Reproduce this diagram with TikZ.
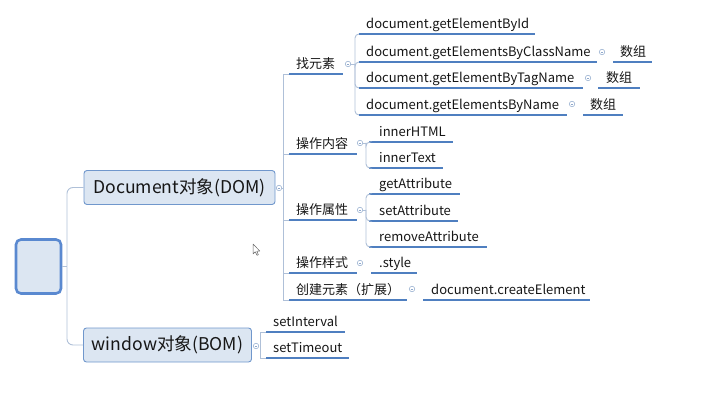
\documentclass[tikz,border=0pt]{standalone}
\usepackage{fontspec}
\setmainfont{Noto Sans CJK SC}
\definecolor{ulc}{HTML}{4F7FC0}
\definecolor{connc}{HTML}{AFC0D8}
\definecolor{nfill}{HTML}{DCE6F2}
\definecolor{nbord}{HTML}{7097CC}
\definecolor{rbord}{HTML}{5A89D0}
\definecolor{togc}{HTML}{8EA8CC}
\definecolor{txtc}{HTML}{161616}
\newcommand\mmtopic[6]{%
  \node[lbl] (#1) at (#2,#5-5.5) {#6};
  \coordinate (#1l) at (#3,#5);
  \coordinate (#1r) at (#4,#5);
  \draw[uline] (#1l) -- (#1r);}
\newcommand\mmtog[3]{\node[tog] (#1) at (#2,#3) {};}
\begin{document}
\begin{tikzpicture}[x=1pt,y=-1pt,
  lbl/.style={font=\fontsize{13}{15}\selectfont, text=txtc, anchor=base west, inner sep=0},
  uline/.style={draw=ulc, line width=1.6},
  conn/.style={draw=connc, line width=0.9},
  tog/.style={circle, draw=togc, line width=0.5, fill=white, minimum size=5.5, inner sep=0,
    path picture={\draw[togc, line width=0.5] ([xshift=1.4pt]path picture bounding box.west) -- ([xshift=-1.4pt]path picture bounding box.east);}},
  mainbox/.style={draw=nbord, fill=nfill, line width=0.9, rounded corners=3, inner sep=0,
    font=\fontsize{17.6}{20}\selectfont, text=txtc},
  rootbox/.style={draw=rbord, fill=nfill, line width=2.6, rounded corners=5, inner sep=0}
]
\useasboundingbox (0,0) rectangle (727,403);

% root and main branches
\node[rootbox, minimum width=45, minimum height=54] (root) at (38.5,266.5) {};
\node[mainbox, minimum width=191, minimum height=34] (doc) at (179.5,187.5) {Document对象(DOM)};
\node[mainbox, minimum width=168, minimum height=34] (win) at (167.5,345) {window对象(BOM)};
\coordinate (rj) at (67,266.5);
\draw[conn] (root.east) -- (rj);
\draw[conn, rounded corners=6] (rj) |- (doc.west);
\draw[conn, rounded corners=6] (rj) |- (win.west);

% Document children
\mmtog{dct}{279}{188}
\coordinate (dj) at (283.5,188);
\draw[conn] (dct) -- (dj);
\mmtopic{fy}{296}{289}{343}{74}{找元素}
\mmtopic{cz}{296}{289}{357}{154}{操作内容}
\mmtopic{sx}{296}{289}{357}{220}{操作属性}
\mmtopic{ys}{296}{289}{357}{273}{操作样式}
\mmtopic{cj}{296}{289}{407}{300}{创建元素（扩展）}
\foreach \c in {fy,cz,sx,ys,cj} \draw[conn] (dj) |- (\c l);

% 找元素 children
\mmtog{fyt}{348}{64}
\coordinate (fj) at (355,64);
\draw[conn] (fyt) -- (fj);
\mmtopic{ga}{366}{359}{535}{34}{document.getElementById}
\mmtopic{gb}{366}{359}{597}{62}{document.getElementsByClassName}
\mmtopic{gc}{366}{359}{583}{88}{document.getElementByTagName}
\mmtopic{gd}{366}{359}{567}{115}{document.getElementsByName}
\foreach \c in {ga,gb,gc,gd} \draw[conn, rounded corners=4] (fj) |- (\c l);
\mmtog{gbt}{602}{52}
\mmtopic{ab}{620}{613}{652}{62}{数组}
\mmtog{gct}{588}{78}
\mmtopic{ac}{606}{598}{640}{88}{数组}
\mmtog{gdt}{572}{104}
\mmtopic{ad}{590}{583}{623}{115}{数组}

% 操作内容 children
\mmtog{czt}{360}{143}
\coordinate (czj) at (366,143);
\draw[conn] (czt) -- (czj);
\mmtopic{ca}{379}{369}{453}{142}{innerHTML}
\mmtopic{cb}{379}{369}{443}{168}{innerText}
\foreach \c in {ca,cb} \draw[conn, rounded corners=4] (czj) |- (\c l);

% 操作属性 children
\mmtog{sxt}{360}{210}
\coordinate (sxj) at (366,210);
\draw[conn] (sxt) -- (sxj);
\mmtopic{sa}{379}{369}{460}{194}{getAttribute}
\mmtopic{sb}{379}{369}{458}{221}{setAttribute}
\mmtopic{sc}{379}{369}{487}{247}{removeAttribute}
\foreach \c in {sa,sb,sc} \draw[conn, rounded corners=4] (sxj) |- (\c l);

% 操作样式 child
\mmtog{yst}{360}{263}
\mmtopic{ya}{379}{371}{417}{273}{.style}

% 创建元素 child
\mmtog{cjt}{412}{289}
\mmtopic{ja}{431}{423}{590}{300}{document.createElement}

% window children
\mmtog{wt}{256}{346}
\coordinate (wj) at (260,346);
\mmtopic{wa}{273}{266}{345}{332}{setInterval}
\mmtopic{wb}{273}{266}{349}{358}{setTimeout}
\foreach \c in {wa,wb} \draw[conn] (wj) |- (\c l);

% mouse cursor
\draw[gray!80!black, fill=white, line width=0.5, line join=round]
  (253,244) -- (253,254) -- (255.3,251.8) -- (257,255.3) -- (258.4,254.7) -- (256.8,251.3) -- (259.8,251) -- cycle;
\end{tikzpicture}
\end{document}
